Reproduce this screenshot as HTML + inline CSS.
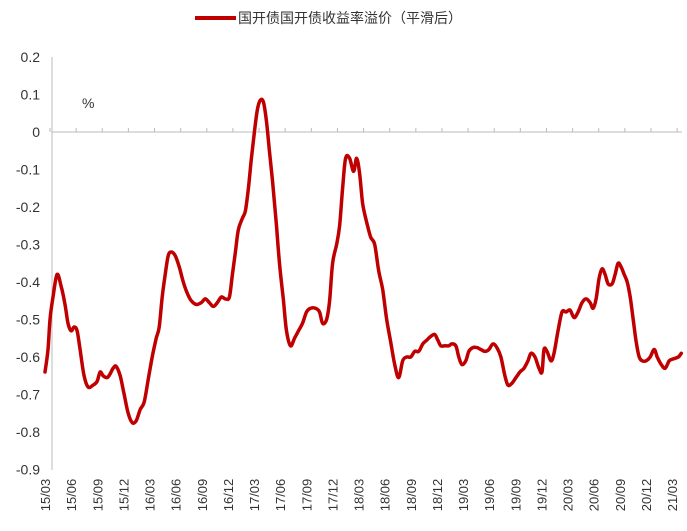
<!DOCTYPE html>
<html><head><meta charset="utf-8"><style>
body{margin:0;background:#fff;}
svg{display:block;font-family:"Liberation Sans","Noto Sans CJK SC",sans-serif;}
</style></head><body>
<svg id="chart" width="687" height="531">
<g>
<line x1="195" y1="18" x2="236" y2="18" stroke="#c00000" stroke-width="4"/>
<text x="238" y="23" font-size="14" fill="#333">国开债国开债收益率溢价（平滑后）</text>
</g>
<text x="82" y="108" font-size="14" fill="#333">%</text>
<line x1="52" y1="57" x2="52" y2="470" stroke="#bbb"/>
<g id="yt"></g>
<g id="xt"></g>
<line id="zero" x1="52" x2="682" stroke="#bbb"/>
<path id="ln" fill="none" stroke="#c00000" stroke-width="3.5" stroke-linejoin="round" stroke-linecap="round"/>
</svg>
<script>
const yTicks=[0.2,0.1,0,-0.1,-0.2,-0.3,-0.4,-0.5,-0.6,-0.7,-0.8,-0.9];
const xLabels=["15/03","15/06","15/09","15/12","16/03","16/06","16/09","16/12","17/03","17/06","17/09","17/12","18/03","18/06","18/09","18/12","19/03","19/06","19/09","19/12","20/03","20/06","20/09","20/12","21/03"];
const weeks=[0,1.5,2.5,4,6,8,10,11.5,13,14.5,16,17.5,19.5,21.5,24,26,27.5,29,31,32.5,34,35.5,37.5,39.5,41.5,43.5,45.5,47.5,49.5,51.5,53.5,55.5,57,58.5,60,61.5,63,65,67,69,71,73,75.5,78,80,82,84,86,88,90,92,93.5,95,96.5,98.5,100,101.5,103,104.5,106,107.5,109,110.5,112,113.5,115.5,117,119,120.5,122.5,124.5,126.5,128.5,130.5,132.5,135,137,138.5,140.5,142,143.5,145.5,147,148.5,150,152,154,155.5,157,158.5,160.5,162.5,164.5,166.5,168.5,170.5,172.5,174.5,176.5,178.5,180.5,182.5,184.5,186.5,188.5,190.5,192.5,194.5,196,197.5,199.5,201.5,203,205,206.5,208,210,211.5,213.5,215.5,217.5,219.5,221.5,223.5,225.5,227.5,229.5,231,233,235,237,239,241,242.5,244.5,246.5,248,249,250.5,252.5,254,256,258,260,262,264,266,268,270,272,273.5,275,276.5,278,279.5,281,283,284.5,286,287.5,289,290.5,292,293.5,295,296.5,298,300,302,304,305.5,307.5,309.5,311.5,313.5,316,317.5];
const spread=[-0.64,-0.58,-0.5,-0.44,-0.38,-0.41,-0.46,-0.51,-0.53,-0.52,-0.53,-0.58,-0.65,-0.68,-0.675,-0.665,-0.64,-0.65,-0.655,-0.645,-0.63,-0.625,-0.65,-0.7,-0.75,-0.775,-0.77,-0.74,-0.72,-0.66,-0.6,-0.55,-0.52,-0.44,-0.38,-0.33,-0.32,-0.33,-0.36,-0.4,-0.43,-0.45,-0.46,-0.455,-0.445,-0.455,-0.465,-0.455,-0.44,-0.445,-0.44,-0.38,-0.32,-0.26,-0.23,-0.21,-0.15,-0.07,0.0,0.06,0.085,0.08,0.03,-0.05,-0.13,-0.25,-0.35,-0.45,-0.53,-0.57,-0.55,-0.53,-0.51,-0.48,-0.47,-0.47,-0.48,-0.51,-0.5,-0.45,-0.35,-0.3,-0.25,-0.15,-0.07,-0.07,-0.105,-0.07,-0.11,-0.19,-0.24,-0.28,-0.3,-0.37,-0.42,-0.5,-0.56,-0.62,-0.655,-0.61,-0.6,-0.6,-0.585,-0.585,-0.565,-0.555,-0.545,-0.54,-0.555,-0.57,-0.57,-0.57,-0.565,-0.57,-0.6,-0.62,-0.61,-0.585,-0.575,-0.575,-0.58,-0.585,-0.58,-0.565,-0.575,-0.6,-0.65,-0.675,-0.67,-0.655,-0.64,-0.63,-0.61,-0.59,-0.6,-0.63,-0.64,-0.58,-0.585,-0.61,-0.59,-0.53,-0.48,-0.48,-0.475,-0.495,-0.48,-0.455,-0.445,-0.455,-0.47,-0.445,-0.39,-0.365,-0.38,-0.405,-0.405,-0.38,-0.35,-0.36,-0.38,-0.4,-0.44,-0.5,-0.56,-0.6,-0.61,-0.61,-0.6,-0.58,-0.6,-0.62,-0.63,-0.61,-0.605,-0.6,-0.59];
const NS="http://www.w3.org/2000/svg";
const y=v=>132-v*375;
const xw=w=>45+w*2.004;
const xl=i=>45+i*26.13;
const yt=document.getElementById('yt'),xt=document.getElementById('xt');
document.getElementById('zero').setAttribute('y1',y(0));
document.getElementById('zero').setAttribute('y2',y(0));
yTicks.forEach(v=>{const t=document.createElementNS(NS,'text');
t.setAttribute('x',40);t.setAttribute('y',y(v)+5);t.setAttribute('text-anchor','end');
t.setAttribute('font-size','14');t.setAttribute('fill','#333');t.textContent=v===0?'0':v.toFixed(1);


yt.appendChild(t);});
xLabels.forEach((s,i)=>{const t=document.createElementNS(NS,'text');
const cx=xl(i);t.setAttribute('transform',`translate(${cx+5},${495}) rotate(-90)`);
t.setAttribute('text-anchor','middle');t.setAttribute('font-size','13');t.setAttribute('fill','#333');t.textContent=s;


xt.appendChild(t);
const k=document.createElementNS(NS,'line');k.setAttribute('x1',cx+5);k.setAttribute('x2',cx+5);
k.setAttribute('y1',y(0)-4);k.setAttribute('y2',y(0));k.setAttribute('stroke','#bbb');


xt.appendChild(k);});
const n=Math.min(weeks.length,spread.length);
const P=[];for(let i=0;i<n;i++)P.push([xw(weeks[i]),y(spread[i])]);
let d='M'+P[0][0].toFixed(1)+','+P[0][1].toFixed(1);
for(let i=0;i<n-1;i++){const p0=P[Math.max(0,i-1)],p1=P[i],p2=P[i+1],p3=P[Math.min(n-1,i+2)];
const c1=[p1[0]+(p2[0]-p0[0])/6,p1[1]+(p2[1]-p0[1])/6],c2=[p2[0]-(p3[0]-p1[0])/6,p2[1]-(p3[1]-p1[1])/6];
d+='C'+c1.map(v=>v.toFixed(1)).join(',')+' '+c2.map(v=>v.toFixed(1)).join(',')+' '+p2.map(v=>v.toFixed(1)).join(',');}
document.getElementById('ln').setAttribute('d',d);
</script>
</body></html>
